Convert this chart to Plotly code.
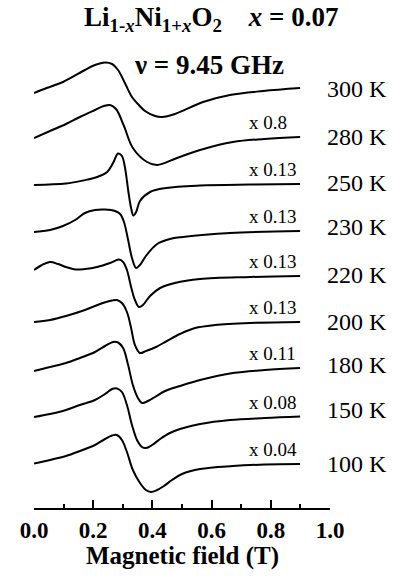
import plotly.graph_objects as go

FONT = "Liberation Serif"

# EPR derivative spectra of Li(1-x)Ni(1+x)O2, x = 0.07, at 9.45 GHz
TEMPS = ["300 K", "280 K", "250 K", "230 K", "220 K", "200 K", "180 K", "150 K", "100 K"]
SCALES = ["", "x 0.8", "x 0.13", "x 0.13", "x 0.13", "x 0.13", "x 0.11", "x 0.08", "x 0.04"]

# field (T) / signal (arb. units) pairs, one per temperature
B_300 = [0.000, 0.043, 0.098, 0.172, 0.206, 0.240, 0.264, 0.284, 0.307, 0.331, 0.351, 0.375, 0.409, 0.432, 0.476, 0.571, 0.662, 0.774, 0.899]
S_300 = [-5, 0, 6, 18, 23, 25.5, 24, 18, 5, -9, -16, -23, -28, -29, -26, -14, -7, -3, 0]

B_280 = [0.000, 0.054, 0.108, 0.155, 0.206, 0.236, 0.257, 0.277, 0.304, 0.334, 0.382, 0.416, 0.483, 0.561, 0.672, 0.780, 0.899]
S_280 = [-1, 6, 13, 20, 27, 31, 32, 28, 11, -11, -25, -28, -21, -13, -5, -2, 0]

B_250 = [0.000, 0.108, 0.166, 0.213, 0.247, 0.267, 0.284, 0.297, 0.307, 0.319, 0.328, 0.336, 0.345, 0.358, 0.392, 0.446, 0.561, 0.730, 0.899]
S_250 = [-1, 0.5, 3.5, 7, 12, 21, 30.5, 28, 17, -8, -24, -31.5, -28, -17, -8, -4, -1.5, -0.5, 0]

B_230 = [0.000, 0.054, 0.098, 0.139, 0.172, 0.206, 0.240, 0.274, 0.291, 0.304, 0.318, 0.331, 0.345, 0.358, 0.378, 0.416, 0.459, 0.503, 0.662, 0.899]
S_230 = [-1, 1, 5, 11, 18, 21, 21.5, 20, 17, 9, -9, -27, -37, -34, -25, -13, -8, -6, -2, 0]

B_220 = [0.000, 0.027, 0.054, 0.081, 0.108, 0.139, 0.172, 0.213, 0.257, 0.287, 0.301, 0.314, 0.328, 0.341, 0.355, 0.368, 0.392, 0.426, 0.476, 0.561, 0.730, 0.899]
S_220 = [6, 11, 14, 12, 9, 6.5, 7, 9, 13, 16.5, 14, 6, -11, -24, -31, -29, -20, -12, -7, -3, -1, 0]

B_200 = [0.000, 0.054, 0.108, 0.172, 0.223, 0.264, 0.280, 0.297, 0.314, 0.328, 0.341, 0.358, 0.378, 0.412, 0.449, 0.493, 0.544, 0.611, 0.730, 0.899]
S_200 = [0, 2, 6, 12, 18, 21.5, 22, 19, 10, -6, -23, -31, -29, -25, -19, -12, -6, -3, -1, 0]

B_180 = [0.000, 0.054, 0.108, 0.155, 0.206, 0.240, 0.267, 0.284, 0.301, 0.318, 0.334, 0.351, 0.365, 0.385, 0.409, 0.443, 0.493, 0.561, 0.672, 0.780, 0.899]
S_180 = [-3, 1, 5, 10, 16, 22, 26, 25.5, 20, 3, -17, -30, -35, -33, -29, -23, -18, -12, -5, -2, 0]

B_150 = [0.000, 0.054, 0.108, 0.155, 0.206, 0.240, 0.264, 0.280, 0.297, 0.314, 0.331, 0.348, 0.365, 0.378, 0.399, 0.426, 0.459, 0.493, 0.561, 0.662, 0.780, 0.899]
S_150 = [0, 3, 7, 12, 17, 23, 28, 28.5, 25, 12, -8, -23, -30, -31, -28, -22, -16, -12, -7, -3, -1, 0.5]

B_100 = [0.000, 0.054, 0.108, 0.155, 0.206, 0.240, 0.264, 0.280, 0.297, 0.314, 0.334, 0.358, 0.378, 0.395, 0.416, 0.439, 0.466, 0.500, 0.561, 0.672, 0.780, 0.899]
S_100 = [0.5, 4, 8, 13, 19, 25, 28.5, 29, 24, 12, -6, -19, -26, -28, -26, -22, -16, -10, -5, -2, -0.5, 0]

FIELDS = [B_300, B_280, B_250, B_230, B_220, B_200, B_180, B_150, B_100]
SIGNALS = [S_300, S_280, S_250, S_230, S_220, S_200, S_180, S_150, S_100]

# vertical stacking of the spectra (arb. units)
OFFSETS = [420, 371, 324, 277, 232, 186, 140, 91, 44]
TEMP_LABEL_SHIFT = [-1, 0, 1, 4, 1, 0, 3, 7, 0]

TICK_VALS = [0.0, 0.2, 0.4, 0.6, 0.8, 1.0]
TICK_LABELS = ["0.0", "0.2", "0.4", "0.6", "0.8", "1.0"]

Y_SPAN = 508  # height of the plotting area in stacking units

fig = go.Figure()

for b, s, off in zip(FIELDS, SIGNALS, OFFSETS):
    fig.add_trace(go.Scatter(
        x=b, y=[off + v for v in s], mode="lines",
        line=dict(color="black", width=2, shape="spline", smoothing=1.0),
        showlegend=False, hoverinfo="skip",
    ))

annotations = []
for temp, scale, off, shift in zip(TEMPS, SCALES, OFFSETS, TEMP_LABEL_SHIFT):
    annotations.append(dict(
        x=0.983, y=off + shift, xref="x", yref="y", text=temp,
        xanchor="left", yanchor="middle", showarrow=False,
        font=dict(family=FONT, size=24, color="black"),
    ))
    if scale:
        annotations.append(dict(
            x=0.72, y=off + 2, xref="x", yref="y", text=scale,
            xanchor="left", yanchor="bottom", showarrow=False,
            font=dict(family=FONT, size=19, color="black"),
        ))

annotations.append(dict(
    x=0.60, y=489, xref="x", yref="y",
    text="<b>Li<sub>1-<i>x</i></sub>Ni<sub>1+<i>x</i></sub>O<sub>2</sub>    <i>x</i> = 0.07</b>",
    xanchor="center", yanchor="middle", showarrow=False,
    font=dict(family=FONT, size=27, color="black"),
))
annotations.append(dict(
    x=0.59, y=443, xref="x", yref="y", text="<b>\u03bd = 9.45 GHz</b>",
    xanchor="center", yanchor="middle", showarrow=False,
    font=dict(family=FONT, size=27, color="black"),
))
annotations.append(dict(
    x=0.5, y=-48 / Y_SPAN, xref="x", yref="paper", text="<b>Magnetic field (T)</b>",
    xanchor="center", yanchor="middle", showarrow=False,
    font=dict(family=FONT, size=25, color="black"),
))

fig.update_layout(
    width=396, height=579,
    margin=dict(l=34, r=66, t=0, b=71),
    paper_bgcolor="white", plot_bgcolor="white",
    annotations=annotations,
    xaxis=dict(
        range=[0, 1], showgrid=False, zeroline=False,
        showline=True, linecolor="black", linewidth=2,
        ticks="inside", ticklen=8, tickwidth=2, tickcolor="black",
        tickvals=TICK_VALS, ticktext=["<b>%s</b>" % t for t in TICK_LABELS],
        tickfont=dict(family=FONT, size=23, color="black"),
        minor=dict(tickvals=[0.1, 0.3, 0.5, 0.7, 0.9], ticks="inside",
                   ticklen=4, tickwidth=2, tickcolor="black"),
    ),
    yaxis=dict(range=[0, Y_SPAN], visible=False, fixedrange=True),
)

fig.write_html("out.html")
